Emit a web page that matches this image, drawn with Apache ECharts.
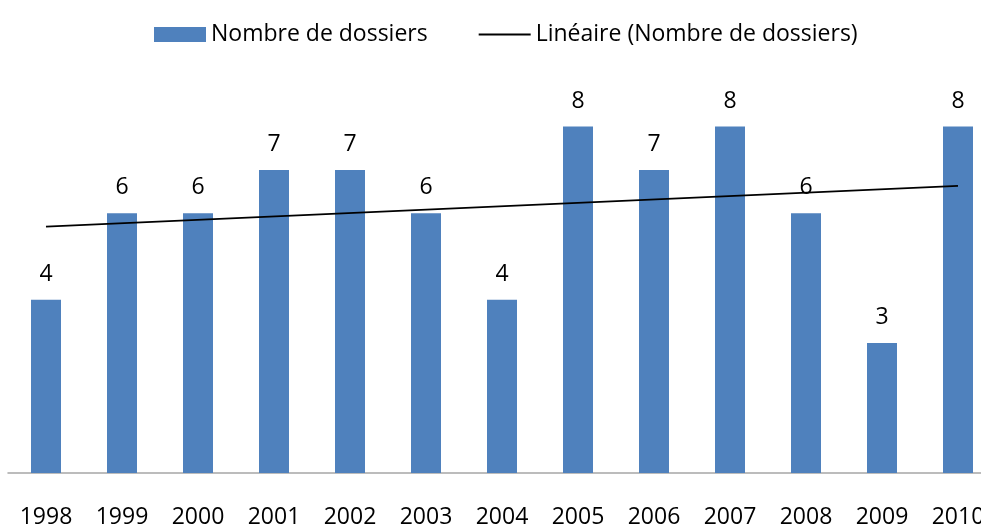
<!DOCTYPE html>
<html>
<head>
<meta charset="utf-8">
<script src="https://cdn.jsdelivr.net/npm/echarts@6/dist/echarts.min.js"></script>
<style>
  html, body { margin: 0; padding: 0; background: #fff; }
  #chart { width: 981px; height: 524px; }
</style>
</head>
<body>
<div id="chart"></div>
<script>
// annees et nombre de dossiers
var years = ['1998', '1999', '2000', '2001', '2002', '2003', '2004', '2005', '2006', '2007', '2008', '2009', '2010'];
var dossiers = [4, 6, 6, 7, 7, 6, 4, 8, 7, 8, 6, 3, 8];
// courbe de tendance lineaire: extremites
var tendance = [5.69, null, null, null, null, null, null, null, null, null, null, null, 6.63];

var myChart = echarts.init(document.getElementById('chart'));
var font = '"Open Sans", "Noto Sans", sans-serif';

// trait fin pour la legende de la tendance (les petits coins fixent la boite)
var lineIcon = 'path://M0,6.6L52,6.6L52,8.4L0,8.4Z M0,0L0.05,0L0,0.05Z M52,15L51.95,15L52,14.95Z';

var option = {
    animation: false,
    textStyle: { fontFamily: font },
    legend: {
        left: 149,
        top: 18,
        itemWidth: 52,
        itemHeight: 15,
        itemGap: 51,
        textStyle: { fontSize: 23, color: '#000', fontFamily: font },
        data: [
            { name: 'Nombre de dossiers', icon: 'rect' },
            { name: 'Linéaire (Nombre de dossiers)', icon: lineIcon, itemStyle: { color: '#000' } }
        ]
    },
    grid: {
        left: 8,
        width: 988,
        top: 40,
        bottom: 51,
        containLabel: false,
        outerBoundsMode: 'none'
    },
    xAxis: {
        type: 'category',
        data: years,
        axisLine: { lineStyle: { color: '#a6a6a6', width: 1.5 } },
        axisTick: { show: false },
        axisLabel: { fontSize: 23, color: '#000', margin: 33, fontFamily: font, interval: 0 }
    },
    yAxis: {
        type: 'value',
        min: 0,
        max: 10,
        show: false,
        splitLine: { show: false }
    },
    series: [
        {
            name: 'Nombre de dossiers',
            type: 'bar',
            data: dossiers,
            barWidth: 30,
            itemStyle: { color: '#4f81bd' },
            label: {
                show: true,
                position: 'top',
                distance: 14,
                fontSize: 23,
                color: '#000',
                fontFamily: font
            }
        },
        {
            name: 'Linéaire (Nombre de dossiers)',
            type: 'line',
            data: tendance,
            connectNulls: true,
            symbol: 'none',
            lineStyle: { color: '#000', width: 1.8 },
            itemStyle: { color: '#000' },
            z: 3
        }
    ]
};

myChart.setOption(option);
</script>
</body>
</html>
